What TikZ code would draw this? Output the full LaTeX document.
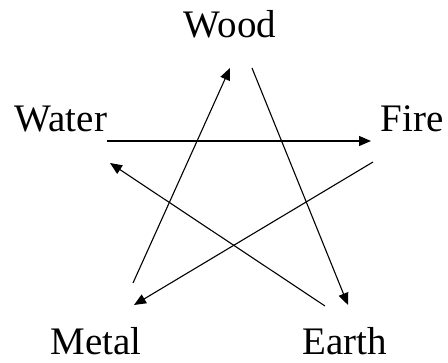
\documentclass[tikz,border=0pt]{standalone}
\usepackage{fontspec}
\setmainfont{Liberation Serif}
\usetikzlibrary{arrows.meta}

\begin{document}
\begin{tikzpicture}[
x=1pt, y=-1pt,
element/.style={inner sep=0pt, anchor=base, font=\fontsize{39}{41}\selectfont},
arrow/.style={-{Triangle[length=12pt,width=10pt]}, line width=1.1pt}
]
\useasboundingbox (0,0) rectangle (448,363);
\node[element] (wood) at (230,38) {Wood};
\node[element] (water) at (61,132) {Water};
\node[element] (fire) at (412,132) {Fire};
\node[element] (metal) at (96,355) {Metal};
\node[element] (earth) at (345,355) {Earth};
% arrow ends
\coordinate (water-out) at (107,141);
\coordinate (fire-in) at (371,141);
\coordinate (metal-out) at (133,283);
\coordinate (wood-in) at (230,68);
\coordinate (wood-out) at (252,68);
\coordinate (earth-in) at (348,305);
\coordinate (fire-out) at (373,162);
\coordinate (metal-in) at (134,305);
\coordinate (earth-out) at (325,306);
\coordinate (water-in) at (110,163);
\draw[arrow] (water-out) -- (fire-in);
\draw[arrow] (metal-out) -- (wood-in);
\draw[arrow] (wood-out) -- (earth-in);
\draw[arrow] (fire-out) -- (metal-in);
\draw[arrow] (earth-out) -- (water-in);
\end{tikzpicture}
\end{document}
